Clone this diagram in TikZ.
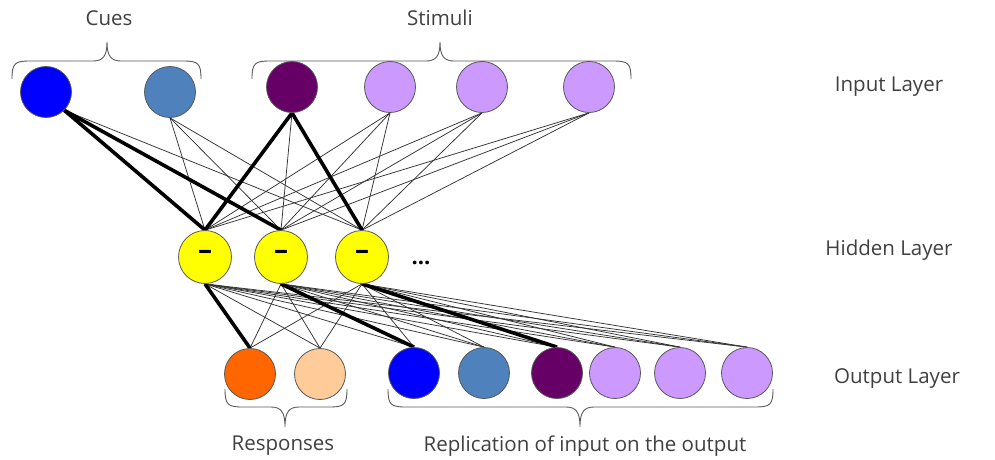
\documentclass[tikz,border=0pt]{standalone}
\usepackage{fontspec}
\setmainfont{Open Sans}
\pgfdeclarelayer{bg}
\pgfsetlayers{bg,main}

\definecolor{cblue}{HTML}{0000FF}
\definecolor{csteel}{HTML}{4F81BD}
\definecolor{cplum}{HTML}{660066}
\definecolor{clav}{HTML}{CC99FF}
\definecolor{cyel}{HTML}{FFFF00}
\definecolor{corange}{HTML}{FF6600}
\definecolor{cpeach}{HTML}{FFCC99}
\definecolor{ctext}{HTML}{404040}
\definecolor{crim}{HTML}{595959}

\begin{document}
\begin{tikzpicture}[x=1pt,y=-1pt,
  neuron/.style={circle, draw=crim, line width=0.8pt, minimum size=51pt, inner sep=0pt},
  hiddenunit/.style={neuron, fill=cyel, minimum size=53pt, font=\fontsize{28}{28}\selectfont\bfseries},
  weak/.style={draw=black!80, line width=0.75pt},
  strong/.style={draw=black, line width=3.6pt},
  bracepath/.style={draw=crim, line width=0.9pt},
  caption/.style={text=ctext, font=\fontsize{20.5}{24}\selectfont, inner sep=0pt}]
\useasboundingbox (0,0) rectangle (995,459);

% input layer
\node[neuron, fill=cblue]  (i1) at (46,92) {};
\node[neuron, fill=csteel] (i2) at (170,92) {};
\node[neuron, fill=cplum]  (i3) at (292,87) {};
\node[neuron, fill=clav]   (i4) at (390,87) {};
\node[neuron, fill=clav]   (i5) at (482,87) {};
\node[neuron, fill=clav]   (i6) at (589,87) {};

% hidden layer
\node[hiddenunit] (h1) at (205,257) {\raisebox{4pt}{–}};
\node[hiddenunit] (h2) at (281,257) {\raisebox{4pt}{–}};
\node[hiddenunit] (h3) at (362,257) {\raisebox{4pt}{–}};
\node[caption, font=\fontsize{22}{24}\selectfont\bfseries, text=black] (more) at (421,263) {...};

% output layer
\node[neuron, fill=corange] (o1) at (250,374) {};
\node[neuron, fill=cpeach]  (o2) at (320,374) {};
\node[neuron, fill=cblue]   (o3) at (414,373) {};
\node[neuron, fill=csteel]  (o4) at (484,373) {};
\node[neuron, fill=cplum]   (o5) at (557,373) {};
\node[neuron, fill=clav]    (o6) at (615,373) {};
\node[neuron, fill=clav]    (o7) at (680,373) {};
\node[neuron, fill=clav]    (o8) at (747,373) {};

% connections
\begin{pgfonlayer}{bg}
  \foreach \h in {h1,h2,h3}{
    \draw[weak] (i1.south east) -- (\h.north);
    \foreach \i in {i2,i3,i4,i5,i6}{
      \draw[weak] (\i.south) -- (\h.north);
    }
    \foreach \o in {o1,o2,o3,o4,o5,o6,o7,o8}{
      \draw[weak] (\h.south) -- (\o.north);
    }
  }
  \draw[strong] (i1.south east) -- (h1.north);
  \draw[strong] (i1.south east) -- (h2.north);
  \draw[strong] (i3.south) -- (h1.north);
  \draw[strong] (i3.south) -- (h3.north);
  \draw[strong] (h1.south) -- (o1.north);
  \draw[strong] (h2.south) -- (o3.north);
  \draw[strong] (h3.south) -- (o5.north);
\end{pgfonlayer}

% braces over the inputs
\draw[bracepath] (12,79) .. controls (12,63) and (15,61) .. (30,61) -- (93,61)
  .. controls (103,61) and (107,56) .. (107,42)
  .. controls (107,56) and (111,61) .. (121,61) -- (183,61)
  .. controls (198,61) and (201,63) .. (201,79);
\draw[bracepath] (252,79) .. controls (252,63) and (255,61) .. (270,61) -- (426,61)
  .. controls (436,61) and (440,56) .. (440,42)
  .. controls (440,56) and (444,61) .. (454,61) -- (613,61)
  .. controls (628,61) and (631,63) .. (631,79);

% braces under the outputs
\draw[bracepath] (225,389) .. controls (225,405) and (228,407) .. (243,407) -- (271,407)
  .. controls (281,407) and (285,412) .. (285,427)
  .. controls (285,412) and (289,407) .. (299,407) -- (329,407)
  .. controls (344,407) and (347,405) .. (347,389);
\draw[bracepath] (388,389) .. controls (388,405) and (391,407) .. (406,407) -- (566,407)
  .. controls (576,407) and (580,412) .. (580,427)
  .. controls (580,412) and (584,407) .. (594,407) -- (755,407)
  .. controls (770,407) and (773,405) .. (773,389);

% captions
\node[caption] (cues) at (109,18) {Cues};
\node[caption] (stim) at (440,18) {Stimuli};
\node[caption] (resp) at (283,446) {Responses};
\node[caption] (repl) at (585,446) {Replication of input on the output};
\node[caption] (linput) at (889,87) {Input Layer};
\node[caption] (lhidden) at (889,250) {Hidden Layer};
\node[caption] (loutput) at (897,379) {Output Layer};
\end{tikzpicture}
\end{document}
